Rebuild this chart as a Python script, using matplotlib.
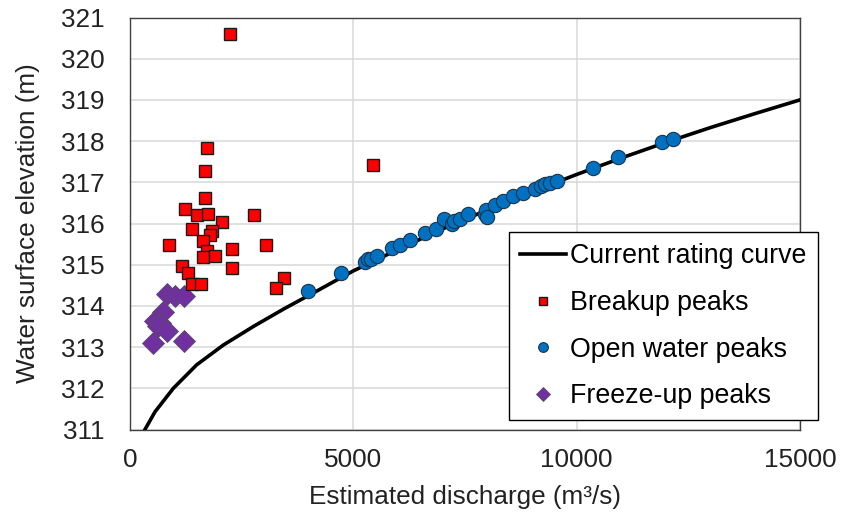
import matplotlib
matplotlib.use("Agg")
import matplotlib.pyplot as plt

plt.rcParams['font.family'] = ['Liberation Sans', 'DejaVu Sans']

# current rating curve
curve_q = [335, 560, 970, 1493, 2090, 2761, 3433, 4180, 5000, 6000, 7000,
           8000, 9000, 10000, 11000, 12000, 13000, 14000, 15000]
curve_h = [311.0, 311.43, 312.0, 312.57, 313.05, 313.5, 313.92, 314.36, 314.85,
           315.37, 315.87, 316.33, 316.77, 317.19, 317.59, 317.97, 318.33, 318.67, 319.0]

# breakup peaks
breakup_q = [2239, 5441, 1717, 1679, 1679, 1231, 1493, 1753, 2053, 2776, 1381,
             1829, 1791, 1642, 881, 2291, 3038, 1717, 1642, 1903, 1157, 2291,
             1306, 3448, 1381, 1590, 3262]
breakup_h = [320.59, 317.43, 317.84, 317.27, 316.61, 316.36, 316.20, 316.24,
             316.03, 316.20, 315.87, 315.81, 315.71, 315.57, 315.47, 315.39,
             315.47, 315.33, 315.19, 315.21, 314.98, 314.92, 314.79, 314.68,
             314.52, 314.52, 314.44]

# open water peaks
open_q = [3993, 4717, 5262, 5336, 5400, 5523, 5859, 6045, 6269, 6605, 6851, 7030,
          7202, 7250, 7388, 7575, 7948, 7971, 8000, 8172, 8358, 8582, 8806, 9068,
          9200, 9292, 9404, 9553, 10373, 10933, 11904, 12165]
open_h = [314.37, 314.79, 315.06, 315.13, 315.15, 315.21, 315.41, 315.47, 315.60,
          315.76, 315.87, 316.10, 316.00, 316.05, 316.10, 316.22, 316.22, 316.32,
          316.15, 316.46, 316.54, 316.66, 316.74, 316.83, 316.90, 316.95, 316.99,
          317.04, 317.35, 317.62, 317.97, 318.06]

# freeze-up peaks
freeze_q = [821, 1008, 1216, 746, 560, 672, 635, 836, 523, 1216]
freeze_h = [314.30, 314.25, 314.25, 313.85, 313.63, 313.59, 313.51, 313.39,
            313.10, 313.14]

fig = plt.figure(figsize=(8.41, 5.17), dpi=100)
ax = fig.add_axes([130 / 841, 1 - 429.5 / 517, 670 / 841, 412 / 517])

ax.plot(curve_q, curve_h, color='black', lw=2.6, label='Current rating curve',
        solid_joinstyle='round', zorder=3)
ax.plot(open_q, open_h, 'o', ms=10.3, mfc='#0070C0', mec='#1b3550', mew=0.8,
        label='Open water peaks', zorder=4)
ax.plot(freeze_q, freeze_h, 'D', ms=11, mfc='#7030A0', mec='#5a4a6a', mew=0.6,
        label='Freeze-up peaks', zorder=4)
ax.plot(breakup_q, breakup_h, 's', ms=8.8, mfc='#FF0000', mec='#1a1a1a', mew=1.0,
        label='Breakup peaks', zorder=5)

ax.set_xlim(0, 15000)
ax.set_ylim(311, 321)
ax.set_xticks([0, 5000, 10000, 15000])
ax.set_yticks(range(311, 322))
ax.grid(True, color='#d9d9d9', lw=1.1)
ax.set_axisbelow(True)
for s in ax.spines.values():
    s.set_color('#404040')
    s.set_linewidth(1.0)
ax.tick_params(length=0, labelsize=18.8, colors='#222222')
ax.tick_params(axis='y', pad=18)
ax.tick_params(axis='x', pad=13)

ax.set_xlabel('Estimated discharge (m³/s)', fontsize=18.8, color='#222222')
ax.set_ylabel('Water surface elevation (m)', fontsize=18.8, color='#222222')
ax.xaxis.set_label_coords(0.5, -0.135)
ax.yaxis.set_label_coords(-0.134, 0.5)

handles, labels = ax.get_legend_handles_labels()
order = [0, 3, 1, 2]
leg = ax.legend([handles[i] for i in order], [labels[i] for i in order],
                loc='upper left', bbox_to_anchor=(509 / 841, 1 - 232 / 517),
                bbox_transform=fig.transFigure, borderaxespad=0, fontsize=19.3,
                markerscale=0.68, handlelength=1.72, handletextpad=0.15,
                labelspacing=0.77, borderpad=0.42, fancybox=False,
                edgecolor='black', framealpha=1)
leg.get_frame().set_linewidth(1.0)

fig.savefig('out.png', dpi=100)
